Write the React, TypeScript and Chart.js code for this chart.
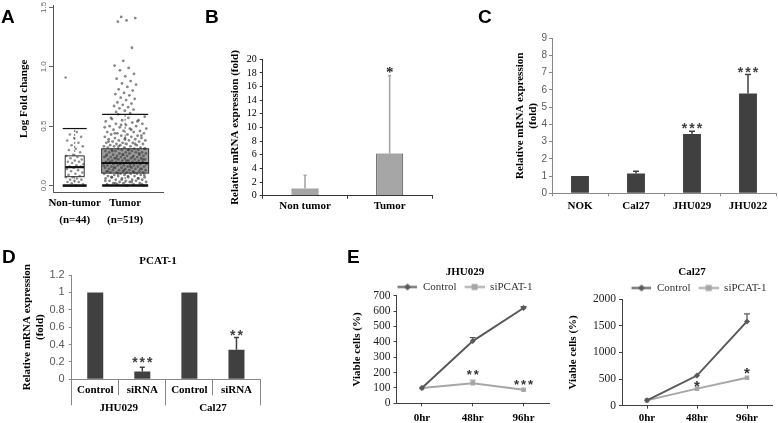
import React, { useEffect, useRef } from "react";
import { Chart, registerables } from "chart.js";

Chart.register(...registerables);

const SERIF = '"Liberation Serif", "Times New Roman", serif';
const SANS = '"Liberation Sans", Arial, sans-serif';

// ---------------- Panel A (box plot) ----------------
const aGroups = ["Non-tumor", "Tumor"];
const aCounts = ["(n=44)", "(n=519)"];
const aQ1 = [0.075, 0.105];
const aMedian = [0.155, 0.19];
const aQ3 = [0.25, 0.31];
const aWhiskerHigh = [0.48, 0.6];
const aWhiskerLow = [0.0, 0.0];
const aYTicks = [0, 0.5, 1.0, 1.5];
const aNonTumorPoints = [
  0.91, 0.45, 0.43, 0.41, 0.4, 0.38, 0.36, 0.34, 0.33, 0.31, 0.3, 0.28, 0.26, 0.25, 0.24,
  0.23, 0.22, 0.21, 0.2, 0.2, 0.19, 0.18, 0.17, 0.16, 0.16, 0.15, 0.14, 0.13, 0.12, 0.11,
  0.1, 0.09, 0.08, 0.07, 0.07, 0.06, 0.05, 0.05, 0.04, 0.03, 0.03, 0.02, 0.01, 0.0,
];
const aTumorPoints = [
  1.42, 1.41, 1.39, 1.38, 1.16, 1.05, 1.01, 0.99, 0.97, 0.94, 0.92, 0.9, 0.88, 0.86, 0.85,
  0.83, 0.81, 0.8, 0.78, 0.77, 0.76, 0.74, 0.73, 0.72, 0.7, 0.69, 0.68, 0.67, 0.66, 0.65,
  0.64, 0.63, 0.62, 0.61, 0.6, 0.58, 0.57, 0.56, 0.55, 0.55, 0.54, 0.53, 0.52, 0.52, 0.51,
  0.5, 0.5, 0.49, 0.48, 0.48, 0.47, 0.46, 0.46, 0.45, 0.45, 0.44, 0.44, 0.43, 0.43, 0.42,
  0.42, 0.41, 0.41, 0.4, 0.4, 0.4, 0.39, 0.39, 0.38, 0.38, 0.38, 0.37, 0.37, 0.36, 0.36,
  0.36, 0.35, 0.35, 0.35, 0.34, 0.34, 0.34, 0.33, 0.33, 0.33, 0.32, 0.32, 0.32, 0.31, 0.31,
  0.31, 0.3, 0.3, 0.3, 0.3, 0.29, 0.29, 0.29, 0.28, 0.28, 0.28, 0.28, 0.27, 0.27, 0.27,
  0.26, 0.26, 0.26, 0.26, 0.25, 0.25, 0.25, 0.25, 0.24, 0.24, 0.24, 0.24, 0.23, 0.23, 0.23,
  0.23, 0.22, 0.22, 0.22, 0.22, 0.21, 0.21, 0.21, 0.21, 0.2, 0.2, 0.2, 0.2, 0.19, 0.19,
  0.19, 0.19, 0.18, 0.18, 0.18, 0.18, 0.17, 0.17, 0.17, 0.17, 0.16, 0.16, 0.16, 0.16, 0.15,
  0.15, 0.15, 0.15, 0.14, 0.14, 0.14, 0.14, 0.13, 0.13, 0.13, 0.13, 0.12, 0.12, 0.12, 0.12,
  0.11, 0.11, 0.11, 0.11, 0.1, 0.1, 0.1, 0.1, 0.09, 0.09, 0.09, 0.08, 0.08, 0.08, 0.07,
  0.07, 0.07, 0.06, 0.06, 0.06, 0.05, 0.05, 0.05, 0.04, 0.04, 0.04, 0.03, 0.03, 0.03, 0.02,
  0.02, 0.02, 0.01, 0.01, 0.01, 0.0, 0.0,
  0.57, 0.54, 0.51, 0.49, 0.47, 0.44, 0.42, 0.39, 0.37, 0.35, 0.33, 0.31, 0.3, 0.29, 0.27,
  0.26, 0.25, 0.24, 0.23, 0.22, 0.21, 0.2, 0.19, 0.18, 0.17, 0.16, 0.15, 0.14, 0.13, 0.12,
  0.11, 0.1, 0.09, 0.08, 0.07, 0.06, 0.05, 0.04, 0.03, 0.02, 0.01, 0.0,
];

// ---------------- Panel B ----------------
const bCategories = ["Non tumor", "Tumor"];
const bValues = [1.05, 6.2];
const bErrors = [1.95, 11.4];
const bStars = ["", "*"];
const bStarAt = [0, 18.6];

// ---------------- Panel C ----------------
const cCategories = ["NOK", "Cal27", "JHU029", "JHU022"];
const cValues = [1.0, 1.15, 3.45, 5.8];
const cErrors = [0, 0.13, 0.15, 1.1];
const cStars = ["", "", "***", "***"];
const cStarAt = [0, 0, 3.95, 7.2];

// ---------------- Panel D ----------------
const dCategories = ["Control", "siRNA", "Control", "siRNA"];
const dGroups = ["JHU029", "Cal27"];
const dValues = [1.0, 0.09, 1.0, 0.34];
const dErrors = [0, 0.05, 0, 0.14];
const dStars = ["", "***", "", "**"];
const dStarAt = [0, 0.23, 0, 0.55];

// ---------------- Panel E ----------------
const eTimes = ["0hr", "48hr", "96hr"];
const eSeries = ["Control", "siPCAT-1"];
const e1Control = [100, 405, 620];
const e1ControlErr = [0, 22, 8];
const e1Si = [100, 131, 88];
const e1SiErr = [0, 20, 0];
const e1Stars = ["", "**", "***"];
const e1StarAt = [0, 205, 140];
const e2Control = [100, 565, 1580];
const e2ControlErr = [0, 0, 140];
const e2Si = [100, 320, 523];
const e2SiErr = [0, 0, 0];
const e2Stars = ["", "*", "*"];
const e2StarAt = [0, 436, 680];

// ---------------- helpers ----------------
const jitter = (i: number) => ((i * 0.6180339887) % 1) - 0.5;
const fixW = (w: number) => (s: any) => {
  s.width = w;
};
const fixH = (h: number) => (s: any) => {
  s.height = h;
};
const plainNum = (v: any) => String(Math.round(Number(v) * 100) / 100);

type ErrSpec = { ds: number; values: number[]; color: string; width: number; cap: number };
type StarSpec = { labels: string[]; at: number[]; font: string; size: number; color: string; spacing: number; lift: number };

function extrasPlugin(errors: ErrSpec[], stars?: StarSpec) {
  return {
    id: "extras",
    afterDatasetsDraw(chart: any) {
      const { ctx } = chart;
      const y = chart.scales.y;
      ctx.save();
      errors.forEach((e) => {
        const meta = chart.getDatasetMeta(e.ds);
        meta.data.forEach((el: any, i: number) => {
          const err = e.values[i];
          if (!err) return;
          const v = chart.data.datasets[e.ds].data[i];
          const y0 = y.getPixelForValue(v);
          const y1 = y.getPixelForValue(v + err);
          ctx.strokeStyle = e.color;
          ctx.lineWidth = e.width;
          ctx.beginPath();
          ctx.moveTo(el.x, y0);
          ctx.lineTo(el.x, y1);
          ctx.moveTo(el.x - e.cap / 2, y1);
          ctx.lineTo(el.x + e.cap / 2, y1);
          ctx.stroke();
        });
      });
      if (stars) {
        const meta = chart.getDatasetMeta(0);
        ctx.font = stars.font;
        ctx.fillStyle = stars.color;
        ctx.textAlign = "center";
        ctx.textBaseline = "alphabetic";
        (ctx as any).letterSpacing = stars.spacing + "px";
        meta.data.forEach((el: any, i: number) => {
          const s = stars.labels[i];
          if (!s) return;
          const py = y.getPixelForValue(stars.at[i]);
          ctx.fillText(s, el.x + stars.spacing / 2, py + stars.lift * stars.size);
        });
      }
      ctx.restore();
    },
  };
}

const BOX_HALF = [9.5, 23.5];
const WHISK_HALF = [12, 23];
const BOX_FILL = ["#ffffff", "#9c9c9c"];

const boxPlugin = {
  id: "boxA",
  beforeDatasetsDraw(chart: any) {
    const { ctx } = chart;
    const { x, y } = chart.scales;
    ctx.save();
    aGroups.forEach((_, i) => {
      const cx = x.getPixelForValue(i + 1);
      const hw = BOX_HALF[i];
      const t = y.getPixelForValue(aQ3[i]);
      const b = y.getPixelForValue(aQ1[i]);
      ctx.fillStyle = BOX_FILL[i];
      ctx.fillRect(cx - hw, t, hw * 2, b - t);
    });
    ctx.restore();
  },
  afterDatasetsDraw(chart: any) {
    const { ctx } = chart;
    const { x, y } = chart.scales;
    const line = (x1: number, y1: number, x2: number, y2: number) => {
      ctx.beginPath();
      ctx.moveTo(x1, y1);
      ctx.lineTo(x2, y2);
      ctx.stroke();
    };
    ctx.save();
    aGroups.forEach((_, i) => {
      const cx = x.getPixelForValue(i + 1);
      const hw = BOX_HALF[i];
      const ww = WHISK_HALF[i];
      const yq1 = y.getPixelForValue(aQ1[i]);
      const yq3 = y.getPixelForValue(aQ3[i]);
      const ym = y.getPixelForValue(aMedian[i]);
      const yh = y.getPixelForValue(aWhiskerHigh[i]);
      const yl = y.getPixelForValue(aWhiskerLow[i]);
      ctx.strokeStyle = "#666";
      ctx.lineWidth = 1;
      ctx.setLineDash([2, 2]);
      line(cx, yq3, cx, yh);
      line(cx, yq1, cx, yl);
      ctx.setLineDash([]);
      ctx.strokeStyle = "#333";
      ctx.lineWidth = 1;
      ctx.strokeRect(cx - hw, yq3, hw * 2, yq1 - yq3);
      ctx.strokeStyle = "#111";
      ctx.lineWidth = 2.2;
      line(cx - hw, ym, cx + hw, ym);
      ctx.lineWidth = 1.2;
      line(cx - ww, yh, cx + ww, yh);
      ctx.lineWidth = 2.6;
      line(cx - ww, yl, cx + ww, yl);
    });
    ctx.restore();
  },
};

function placeBoxes(titleTop: number | null, titleDx: number, legendTop: number | null, legendDx: number) {
  const move = (b: any, top: number | null, dx: number) => {
    if (!b) return;
    if (top !== null) {
      const h = b.bottom - b.top;
      b.top = top;
      b.bottom = top + h;
    }
    b.left += dx;
    b.right += dx;
  };
  return {
    id: "placeBoxes",
    afterLayout(chart: any) {
      move(chart.titleBlock, titleTop, titleDx);
      if (chart.legend && chart.legend.options.display) move(chart.legend, legendTop, legendDx);
    },
  };
}

function legendSample(color: string, style: "diamond" | "square") {
  const c = document.createElement("canvas");
  c.width = 26;
  c.height = 9;
  const g = c.getContext("2d")!;
  g.strokeStyle = color;
  g.lineWidth = 2;
  g.beginPath();
  g.moveTo(6, 4.5);
  g.lineTo(26, 4.5);
  g.stroke();
  g.fillStyle = color;
  if (style === "square") {
    g.fillRect(13, 1.5, 6, 6);
  } else {
    g.beginPath();
    g.moveTo(16, 1);
    g.lineTo(19.5, 4.5);
    g.lineTo(16, 8);
    g.lineTo(12.5, 4.5);
    g.closePath();
    g.fill();
  }
  return c;
}

const boldSerif = (size: number, lineHeight = 1.2) => ({ family: SERIF, size, weight: "bold" as const, lineHeight });

const baseOpts = {
  animation: false as const,
  responsive: false,
  maintainAspectRatio: false,
  events: [] as any[],
};

// ---------------- chart configs ----------------
function makeA(): any {
  return {
    type: "scatter",
    data: {
      datasets: [
        {
          data: aNonTumorPoints.map((v, i) => ({ x: 1 + jitter(i) * 0.36, y: v })),
          pointRadius: 1.3,
          pointBorderWidth: 0,
          pointBackgroundColor: "rgba(70,70,70,0.6)",
        },
        {
          data: aTumorPoints.map((v, i) => ({ x: 2 + jitter(i + 7) * (v > 0.6 ? 0.45 : 0.85), y: v })),
          pointRadius: 1.4,
          pointBorderWidth: 0,
          pointBackgroundColor: "rgba(55,55,55,0.6)",
        },
      ],
    },
    options: {
      ...baseOpts,
      layout: { padding: { left: 0, right: 37, top: 5, bottom: 0 } },
      plugins: { legend: { display: false }, tooltip: { enabled: false } },
      scales: {
        x: {
          type: "linear",
          min: 0.57,
          max: 2.75,
          afterBuildTicks: (s: any) => {
            s.ticks = [{ value: 1 }, { value: 2 }];
          },
          ticks: {
            callback: (v: any) => (v === 1 ? [aGroups[0], aCounts[0]] : [aGroups[1], aCounts[1]]),
            font: boldSerif(11, 1.55),
            color: "#000",
            padding: 2,
            autoSkip: false,
            maxRotation: 0,
          },
          grid: { display: false, drawTicks: false },
          border: { color: "#555" },
          afterFit: fixH(37.3),
        },
        y: {
          min: -0.06,
          max: 1.52,
          afterBuildTicks: (s: any) => {
            s.ticks = aYTicks.map((v) => ({ value: v }));
          },
          ticks: {
            callback: (v: any) => Number(v).toFixed(1),
            font: { family: SANS, size: 8 },
            color: "#666",
            minRotation: 90,
            maxRotation: 90,
            crossAlign: "center",
            padding: 0,
            autoSkip: false,
          },
          grid: { drawOnChartArea: false, tickLength: 4, tickColor: "#666" },
          border: { color: "#555" },
          title: {
            display: true,
            text: "Log Fold change",
            font: boldSerif(11),
            color: "#000",
            padding: { top: 17.4, bottom: 0 },
          },
          afterFit: fixW(53),
        },
      },
    },
    plugins: [boxPlugin],
  };
}

function makeB(): any {
  return {
    type: "bar",
    data: {
      labels: bCategories,
      datasets: [
        {
          data: bValues,
          backgroundColor: "#a6a6a6",
          borderColor: "#4d4d4d",
          borderWidth: 1,
          barPercentage: 0.32,
          categoryPercentage: 1,
        },
      ],
    },
    options: {
      ...baseOpts,
      layout: { padding: { left: 0, right: 3, top: 29.3, bottom: 0 } },
      plugins: { legend: { display: false }, tooltip: { enabled: false } },
      scales: {
        x: {
          grid: { offset: true, drawOnChartArea: false, tickLength: 3, tickColor: "#333" },
          border: { color: "#333" },
          ticks: { font: boldSerif(11), color: "#000", padding: 1 },
          afterFit: fixH(24.3),
        },
        y: {
          min: 0,
          max: 20,
          ticks: { stepSize: 2, autoSkip: false, callback: plainNum, font: { family: SERIF, size: 10 }, color: "#000", padding: 3 },
          grid: { drawOnChartArea: false, tickLength: 3, tickColor: "#333" },
          border: { color: "#333" },
          title: {
            display: true,
            text: "Relative mRNA expression (fold)",
            font: boldSerif(11),
            color: "#000",
            padding: { top: 33.4, bottom: 0 },
          },
          afterFit: fixW(67.7),
        },
      },
    },
    plugins: [
      extrasPlugin([{ ds: 0, values: bErrors, color: "#a6a6a6", width: 1.6, cap: 3 }], {
        labels: bStars,
        at: bStarAt,
        font: `bold 15px ${SERIF}`,
        size: 15,
        color: "#222",
        spacing: 0,
        lift: 0.55,
      }),
    ],
  };
}

function makeC(): any {
  return {
    type: "bar",
    data: {
      labels: cCategories,
      datasets: [
        { data: cValues, backgroundColor: "#404040", borderWidth: 0, barPercentage: 0.32, categoryPercentage: 1 },
      ],
    },
    options: {
      ...baseOpts,
      layout: { padding: { left: 0, right: 2, top: 8.3, bottom: 0 } },
      plugins: { legend: { display: false }, tooltip: { enabled: false } },
      scales: {
        x: {
          grid: { offset: true, drawOnChartArea: false, tickLength: 3, tickColor: "#888" },
          border: { color: "#888" },
          ticks: { font: boldSerif(11), color: "#000", padding: 2.8 },
          afterFit: fixH(26.7),
        },
        y: {
          min: 0,
          max: 9,
          ticks: { stepSize: 1, autoSkip: false, callback: plainNum, font: { family: SANS, size: 10 }, color: "#595959", padding: 2 },
          grid: { drawOnChartArea: false, tickLength: 3, tickColor: "#888" },
          border: { color: "#888" },
          title: {
            display: true,
            text: ["Relative mRNA expression", "(fold)"],
            font: boldSerif(11, 1.18),
            color: "#000",
            padding: { top: 53.5, bottom: 0 },
          },
          afterFit: fixW(92),
        },
      },
    },
    plugins: [
      extrasPlugin([{ ds: 0, values: cErrors, color: "#404040", width: 1.5, cap: 6 }], {
        labels: cStars,
        at: cStarAt,
        font: `bold 14px ${SANS}`,
        size: 14,
        color: "#404040",
        spacing: 2,
        lift: 0.58,
      }),
    ],
  };
}

function makeD(): any {
  return {
    type: "bar",
    data: {
      labels: dCategories,
      datasets: [
        { data: dValues, backgroundColor: "#404040", borderWidth: 0, barPercentage: 0.34, categoryPercentage: 1 },
      ],
    },
    options: {
      ...baseOpts,
      layout: { padding: { left: 0, right: 56, top: 0, bottom: 0 } },
      plugins: {
        legend: { display: false },
        tooltip: { enabled: false },
        title: {
          display: true,
          text: "PCAT-1",
          font: boldSerif(11),
          color: "#000",
          padding: { top: 14.4, bottom: 7.4 },
        },
      },
      scales: {
        x: {
          weight: 0,
          grid: { offset: true, drawOnChartArea: false, tickLength: 16, tickColor: "#888" },
          border: { color: "#888" },
          ticks: { font: boldSerif(11), color: "#000", padding: -11.9 },
          afterFit: fixH(16),
        },
        x2: {
          type: "category",
          position: "bottom",
          weight: 1,
          labels: dGroups,
          offset: true,
          grid: { offset: true, drawOnChartArea: false, tickLength: 10, tickColor: "#888" },
          border: { display: false },
          ticks: { font: boldSerif(11), color: "#000", padding: -4.2 },
          afterFit: fixH(27.7),
        },
        y: {
          min: 0,
          max: 1.2,
          ticks: { stepSize: 0.2, autoSkip: false, callback: plainNum, font: { family: SANS, size: 11 }, color: "#595959", padding: 4 },
          grid: { drawOnChartArea: false, tickLength: 3, tickColor: "#888" },
          border: { color: "#888" },
          title: {
            display: true,
            text: ["Relative mRNA expression", "(fold)"],
            font: boldSerif(11, 1.11),
            color: "#000",
            padding: { top: 21.4, bottom: 0 },
          },
          afterFit: fixW(71.7),
        },
      },
    },
    plugins: [
      placeBoxes(null, 28, null, 0),
      extrasPlugin([{ ds: 0, values: dErrors, color: "#404040", width: 1.5, cap: 5 }], {
        labels: dStars,
        at: dStarAt,
        font: `bold 14px ${SANS}`,
        size: 14,
        color: "#404040",
        spacing: 2,
        lift: 0.58,
      }),
    ],
  };
}

type EGeo = {
  padTop: number;
  padRight: number;
  w: number;
  h: number;
  yTitlePad: number;
  xPad: number;
  titleTop: number;
  titleDx: number;
  legendTop: number;
  legendDx: number;
};

function makeE(
  title: string,
  control: number[],
  si: number[],
  controlErr: number[],
  siErr: number[],
  stars: string[],
  starAt: number[],
  yMax: number,
  yStep: number,
  geo: EGeo,
  starSize: number
): any {
  const samples = [legendSample("#595959", "diamond"), legendSample("#a6a6a6", "square")];
  return {
    type: "line",
    data: {
      labels: eTimes,
      datasets: [
        {
          label: eSeries[0],
          data: control,
          borderColor: "#595959",
          backgroundColor: "#595959",
          borderWidth: 2,
          pointStyle: "rectRot",
          pointRadius: 3,
          pointBorderWidth: 0,
        },
        {
          label: eSeries[1],
          data: si,
          borderColor: "#a6a6a6",
          backgroundColor: "#a6a6a6",
          borderWidth: 2,
          pointStyle: "rect",
          pointRadius: 3.2,
          pointBorderWidth: 0,
        },
      ],
    },
    options: {
      ...baseOpts,
      layout: { padding: { left: 0, right: geo.padRight, top: geo.padTop, bottom: 0 } },
      plugins: {
        tooltip: { enabled: false },
        title: {
          display: true,
          text: title,
          font: boldSerif(11),
          color: "#000",
          padding: { top: 0, bottom: 0 },
        },
        legend: {
          display: true,
          position: "top",
          labels: {
            usePointStyle: true,
            pointStyleWidth: 26,
            padding: 2,
            font: { family: SERIF, size: 11 },
            color: "#333",
            generateLabels: (chart: any) => {
              const items = (Chart.defaults as any).plugins.legend.labels.generateLabels(chart);
              return items.map((it: any, i: number) => ({ ...it, pointStyle: samples[i] }));
            },
          },
        },
      },
      scales: {
        x: {
          offset: true,
          grid: { offset: false, drawOnChartArea: false, tickLength: 3, tickColor: "#404040" },
          border: { color: "#404040" },
          ticks: { font: boldSerif(11), color: "#000", padding: geo.xPad },
          afterFit: fixH(geo.h),
        },
        y: {
          min: 0,
          max: yMax,
          ticks: { stepSize: yStep, autoSkip: false, callback: plainNum, font: { family: SERIF, size: 11.5 }, color: "#222", padding: 3 },
          grid: { drawOnChartArea: false, tickLength: 3, tickColor: "#404040" },
          border: { color: "#404040" },
          title: {
            display: true,
            text: "Viable cells (%)",
            font: boldSerif(11),
            color: "#000",
            padding: { top: geo.yTitlePad, bottom: 0 },
          },
          afterFit: fixW(geo.w),
        },
      },
    },
    plugins: [
      placeBoxes(geo.titleTop, geo.titleDx, geo.legendTop, geo.legendDx),
      extrasPlugin(
        [
          { ds: 0, values: controlErr, color: "#595959", width: 1.3, cap: 6 },
          { ds: 1, values: siErr, color: "#a6a6a6", width: 1.3, cap: 6 },
        ],
        {
          labels: stars,
          at: starAt,
          font: `bold ${starSize}px ${SANS}`,
          size: starSize,
          color: "#333",
          spacing: 2,
          lift: 0.58,
        }
      ),
    ],
  };
}

function ChartBox({ left, top, width, height, make }: { left: number; top: number; width: number; height: number; make: () => any }) {
  const ref = useRef<HTMLCanvasElement>(null);
  useEffect(() => {
    const chart = new Chart(ref.current as HTMLCanvasElement, make());
    return () => chart.destroy();
  }, []);
  return (
    <div style={{ position: "absolute", left, top, width, height }}>
      <canvas ref={ref} width={width} height={height} style={{ width, height, display: "block" }} />
    </div>
  );
}

const letterStyle = (left: number, top: number): React.CSSProperties => ({
  position: "absolute",
  left,
  top,
  fontFamily: SANS,
  fontWeight: "bold",
  fontSize: 19,
  lineHeight: 1,
  color: "#000",
});

export default function App() {
  return (
    <div
      style={{
        position: "fixed",
        left: 0,
        top: 0,
        width: 778,
        height: 423,
        overflow: "hidden",
        background: "#fff",
      }}
    >
      <ChartBox left={0} top={0} width={200} height={230} make={makeA} />
      <ChartBox left={195} top={30} width={240} height={190} make={makeB} />
      <ChartBox left={460} top={30} width={318} height={190} make={makeC} />
      <ChartBox left={0} top={240} width={316} height={183} make={makeD} />
      <ChartBox
        left={300}
        top={240}
        width={330}
        height={183}
        make={() =>
          makeE("JHU029", e1Control, e1Si, e1ControlErr, e1SiErr, e1Stars, e1StarAt, 700, 100, {
            padTop: 19.5,
            padRight: 81,
            w: 96.5,
            h: 19.7,
            yTitlePad: 50.4,
            xPad: 5,
            titleTop: 25.4,
            titleDx: 40.5,
            legendTop: 39.5,
            legendDx: 37.5,
          }, 13)
        }
      />
      <ChartBox
        left={540}
        top={240}
        width={304}
        height={183}
        make={() =>
          makeE("Cal27", e2Control, e2Si, e2ControlErr, e2SiErr, e2Stars, e2StarAt, 2000, 500, {
            padTop: 22.8,
            padRight: 72,
            w: 82,
            h: 17.3,
            yTitlePad: 26.4,
            xPad: 2.7,
            titleTop: 25.4,
            titleDx: 36,
            legendTop: 40.5,
            legendDx: 40,
          }, 15)
        }
      />
      <div style={letterStyle(1, 7)}>A</div>
      <div style={letterStyle(205, 7)}>B</div>
      <div style={letterStyle(478, 7)}>C</div>
      <div style={letterStyle(2, 247)}>D</div>
      <div style={letterStyle(347, 247)}>E</div>
    </div>
  );
}
